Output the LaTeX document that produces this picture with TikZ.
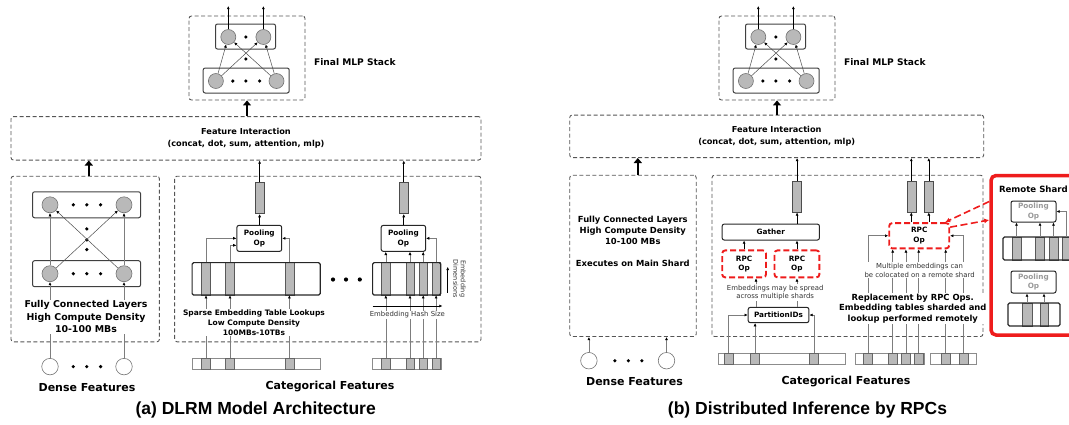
\documentclass[tikz,border=0pt]{standalone}
\usepackage{fontspec}
\setmainfont{DejaVu Sans}
\newfontfamily\capfont{Liberation Sans}
\usetikzlibrary{arrows.meta, positioning, calc}
\definecolor{linegray}{RGB}{125,125,125}
\definecolor{boxgray}{RGB}{85,85,85}
\definecolor{cellgray}{RGB}{185,185,185}
\definecolor{rpcred}{RGB}{238,28,28}

\begin{document}
\begin{tikzpicture}[
    x=1pt, y=-1pt,
    dashbox/.style={rectangle, draw=boxgray, dash pattern=on 4pt off 2.5pt, line width=0.9pt, rounded corners=2.5pt, inner sep=0pt},
    netlayer/.style={rectangle, draw=black!75, line width=1pt, rounded corners=2pt, minimum height=25pt},
    neuron/.style={circle, draw=black!55, fill=cellgray, minimum size=15pt, inner sep=0pt, line width=0.6pt},
    inputnode/.style={circle, draw=black!55, fill=white, minimum size=16.5pt, inner sep=0pt, line width=0.6pt},
    dotnode/.style={circle, fill=black, minimum size=3.6pt, inner sep=0pt},
    opbox/.style={rectangle, draw=black!85, line width=1pt, rounded corners=2pt, font=\fontsize{7.3}{9.6}\selectfont\bfseries, align=center, inner sep=0pt},
    rpcbox/.style={rectangle, draw=rpcred, dash pattern=on 6pt off 3pt, line width=1.9pt, rounded corners=3pt, font=\fontsize{7.3}{9.6}\selectfont\bfseries, align=center, inner sep=0pt, minimum height=27pt},
    embtable/.style={rectangle, draw=black!85, line width=1.2pt, rounded corners=1.5pt, inner sep=0pt},
    stripe/.style={rectangle, draw=black!65, fill=cellgray, minimum width=9pt, inner sep=0pt, line width=0.5pt},
    featvec/.style={rectangle, draw=black!45, line width=0.5pt, minimum height=11pt, inner sep=0pt},
    fcell/.style={rectangle, draw=black!60, fill=cellgray, minimum width=9pt, minimum height=11pt, inner sep=0pt, line width=0.5pt},
    vecbar/.style={rectangle, draw=black!70, fill=cellgray, minimum width=9pt, minimum height=31pt, inner sep=0pt, line width=0.6pt},
    conn/.style={draw=linegray, line width=0.6pt, -{Latex[length=3.2pt, width=3pt, color=black]}},
    netarrow/.style={draw=black!70, line width=0.5pt, -{Latex[length=3.2pt, width=3pt, color=black]}},
    outarrow/.style={draw=black, line width=0.6pt, -{Latex[length=3.2pt, width=3pt]}},
    bigarrow/.style={draw=black, line width=2.6pt, -{Triangle[length=5pt, width=8pt]}},
    redarrow/.style={draw=rpcred, dash pattern=on 7pt off 3.5pt, line width=1.6pt, -{Latex[length=5pt, width=5pt]}},
    note/.style={font=\fontsize{6.9}{8.6}\selectfont, text=black!80, align=center, fill=white, inner sep=0.8pt},
    boldnote/.style={font=\bfseries, align=center, fill=white, inner sep=0.8pt},
    subcap/.style={font=\capfont\bfseries\fontsize{17.5}{20}\selectfont}
]
\useasboundingbox (0,0) rectangle (1069,424);
\clip (0,0) rectangle (1069,424);

% Final MLP stacks (same in both panels)
\foreach \p/\dx in {a/0, b/530}{
  \node[dashbox, minimum width=116pt, minimum height=84pt] (mlp_\p) at (247+\dx,58) {};
  \node[netlayer, minimum width=60pt] (mlp_top_\p) at (245.5+\dx,36.5) {};
  \node[netlayer, minimum width=86pt] (mlp_bot_\p) at (246.2+\dx,80.5) {};
  \node[neuron] (mt1_\p) at (228.3+\dx,37) {};
  \node[neuron] (mt2_\p) at (263.4+\dx,37) {};
  \node[neuron] (mb1_\p) at (215.9+\dx,81) {};
  \node[neuron] (mb2_\p) at (276.5+\dx,81) {};
  \node[dotnode] (mdot_top_\p) at (245.9+\dx,37) {};
  \node[dotnode] (mdot_mid_\p) at (245.9+\dx,59) {};
  \foreach \xx [count=\k] in {232.8,245.9,259.6}
    \node[dotnode] (mdot\k_\p) at (\xx+\dx,81) {};
  \foreach \src in {mb1,mb2}
    \foreach \tgt in {mt1,mt2}
      \draw[netarrow] (\src_\p) -- (\tgt_\p);
  \coordinate (mout1_\p) at (228.3+\dx,6);
  \coordinate (mout2_\p) at (263.4+\dx,6);
  \draw[outarrow] (mt1_\p.north) -- (mout1_\p);
  \draw[outarrow] (mt2_\p.north) -- (mout2_\p);
  \node[font=\fontsize{9.1}{11}\selectfont\bfseries, anchor=west] (mlp_lbl_\p) at (310.6+\dx,62) {Final MLP Stack};
}

% Feature interaction boxes
\node[dashbox, minimum width=470pt, minimum height=43.5pt, font=\fontsize{8.2}{12}\selectfont\bfseries, align=center] (fi_a) at (246,138.3) {Feature Interaction\\(concat, dot, sum, attention, mlp)};
\node[dashbox, minimum width=414pt, minimum height=42.5pt, font=\fontsize{8.2}{12}\selectfont\bfseries, align=center] (fi_b) at (776.7,136.3) {Feature Interaction\\(concat, dot, sum, attention, mlp)};
\draw[bigarrow] (fi_a.north -| mlp_a.south) -- (mlp_a.south);
\draw[bigarrow] (fi_b.north -| mlp_b.south) -- (mlp_b.south);

%%%%% Panel (a) %%%%%

% Dense side
\node[dashbox, minimum width=148.4pt, minimum height=165.6pt] (dense_a) at (85.2,259) {};
\node[netlayer, minimum width=108pt, minimum height=26pt] (dtop_a) at (86.6,204.8) {};
\node[netlayer, minimum width=108pt, minimum height=26pt] (dbot_a) at (86.6,273.7) {};
\node[neuron, minimum size=16pt] (dt1_a) at (50,204.8) {};
\node[neuron, minimum size=16pt] (dt2_a) at (124,204.8) {};
\node[neuron, minimum size=16pt] (db1_a) at (50,273.7) {};
\node[neuron, minimum size=16pt] (db2_a) at (124,273.7) {};
\foreach \xx [count=\k] in {73.3,86.8,100.6}{
  \node[dotnode] (dtdot\k_a) at (\xx,204.8) {};
  \node[dotnode] (dbdot\k_a) at (\xx,273.7) {};
  \node[dotnode] (didot\k_a) at (\xx,366.6) {};
}
\foreach \yy [count=\k] in {228.9,239.9,249.5}
  \node[dotnode] (dmid\k_a) at (86.8,\yy) {};
\node[inputnode] (di1_a) at (50,366.6) {};
\node[inputnode] (di2_a) at (124,366.6) {};
\draw[conn] (db1_a) -- (dt1_a);
\draw[conn] (db2_a) -- (dt2_a);
\draw[netarrow] (db1_a) -- (dt2_a);
\draw[netarrow] (db2_a) -- (dt1_a);
\draw[conn] (di1_a) -- (db1_a);
\draw[conn] (di2_a) -- (db2_a);
\coordinate (dense_up_a) at ([xshift=3.6pt]dense_a.north);
\draw[bigarrow] (dense_up_a) -- (dense_up_a |- fi_a.south);

% Categorical side
\node[dashbox, minimum width=306.4pt, minimum height=165.6pt] (cat_a) at (327.8,259) {};

% table 1
\node[featvec, minimum width=128.1pt] (fa1) at (256.15,363.7) {};
\foreach \xx [count=\k] in {206,230,289.4}{
  \node[stripe, minimum height=32.4pt] (ta1s\k) at (\xx,278.8) {};
  \node[fcell] (fa1c\k) at (\xx,363.7) {};
}
\node[embtable, minimum width=128.1pt, minimum height=32.4pt] (ta1) at (256.15,278.8) {};
\node[opbox, minimum width=44.8pt, minimum height=25.9pt] (pool_a1) at (259.3,238.35) {Pooling\\Op};
\node[vecbar] (bar_a1) at (259.6,198.25) {};
\draw[outarrow] (pool_a1.north -| bar_a1.south) -- (bar_a1.south);
\draw[outarrow] (bar_a1.north) -- (bar_a1.north |- fi_a.south);
\coordinate (pin_a1) at ([yshift=-7pt]pool_a1.west);
\draw[conn] (ta1s1.north) |- (pool_a1.west);
\draw[conn] (ta1s2.north) |- (pin_a1);
\draw[conn] (ta1s3.north) |- (pool_a1.east);
\foreach \k in {1,2,3}
  \draw[conn] (fa1c\k.north) -- (ta1s\k.south);

\foreach \xx [count=\k] in {333,346,359.8}
  \node[dotnode, minimum size=4.2pt] (tdot\k_a) at (\xx,279.5) {};

% table 2
\node[featvec, minimum width=68.2pt] (fa2) at (406.7,363.7) {};
\foreach \xx [count=\k] in {385.8,410,423.2,436.1}{
  \node[stripe, minimum width=8.5pt, minimum height=32.4pt] (ta2s\k) at (\xx,278.8) {};
  \node[fcell, minimum width=8.5pt] (fa2c\k) at (\xx,363.7) {};
}
\node[embtable, minimum width=68.2pt, minimum height=32.4pt] (ta2) at (406.7,278.8) {};
\node[opbox, minimum width=44.4pt, minimum height=25.9pt] (pool_a2) at (403.4,238.35) {Pooling\\Op};
\node[vecbar] (bar_a2) at (403.75,198.25) {};
\draw[outarrow] (pool_a2.north -| bar_a2.south) -- (bar_a2.south);
\draw[outarrow] (bar_a2.north) -- (bar_a2.north |- fi_a.south);
\foreach \k in {1,2,3}
  \draw[conn] (ta2s\k.north) -- (ta2s\k.north |- pool_a2.south);
\draw[conn] (ta2s4.north) |- (pool_a2.east);
\foreach \k in {1,2,3,4}
  \draw[conn] (fa2c\k.north) -- (ta2s\k.south);

% axes of table 2
\coordinate (dimlo_a) at (447.7,292.6);
\coordinate (dimhi_a) at (447.7,266.8);
\draw[outarrow] (dimlo_a) -- (dimhi_a);
\coordinate (hashl_a) at (372.6,306);
\coordinate (hashr_a) at (442.5,306);
\draw[outarrow] (hashl_a) -- (hashr_a);
\node[font=\fontsize{6.5}{7.6}\selectfont, text=black!80, rotate=-90, align=center] (embdim_a) at (459.5,278.8) {Embedding\\Dimensions};
\node[note] (hash_a) at (407.4,315) {Embedding Hash Size};

% texts of panel (a)
\node[boldnote, font=\fontsize{9.4}{12.75}\selectfont\bfseries] (dense_txt_a) at (86,316.7) {Fully Connected Layers\\High Compute Density\\10-100 MBs};
\node[boldnote, font=\fontsize{7.5}{9.85}\selectfont\bfseries] (sparse_a) at (254,322.5) {Sparse Embedding Table Lookups\\Low Compute Density\\100MBs-10TBs};
\node[font=\fontsize{11}{13}\selectfont\bfseries] (dense_lbl_a) at (87,388) {Dense Features};
\node[font=\fontsize{11}{13}\selectfont\bfseries] (cat_lbl_a) at (330,386.6) {Categorical Features};
\node[subcap] (cap_a) at (255.7,410) {(a) DLRM Model Architecture};

%%%%% Panel (b) %%%%%

% Dense side
\node[dashbox, minimum width=126.5pt, minimum height=161.3pt] (dense_b) at (633,255.85) {};
\node[inputnode] (di1_b) at (588.9,360.7) {};
\node[inputnode] (di2_b) at (666.5,360.7) {};
\foreach \xx [count=\k] in {614.9,628.4,641.9}
  \node[dotnode] (didot\k_b) at (\xx,360.7) {};
\draw[conn] (di1_b) -- (di1_b |- dense_b.south);
\draw[conn] (di2_b) -- (di2_b |- dense_b.south);
\coordinate (dense_up_b) at ([xshift=4.8pt]dense_b.north);
\draw[bigarrow] (dense_up_b) -- (dense_up_b |- fi_b.south);
\node[font=\fontsize{8.4}{11}\selectfont\bfseries, align=center] (dense_txt_b) at (632.8,241) {Fully Connected Layers\\High Compute Density\\10-100 MBs\\[11pt]Executes on Main Shard};

% Categorical side
\node[dashbox, minimum width=271pt, minimum height=161.3pt] (cat_b) at (847.5,255.85) {};

% spread embeddings
\node[vecbar] (bar_b1) at (797.1,196.6) {};
\node[opbox, minimum width=97.2pt, minimum height=15.9pt] (gather_b) at (770.8,232.05) {Gather};
\node[rpcbox, minimum width=43.8pt] (rpc_b1) at (744.1,263.9) {RPC\\Op};
\node[rpcbox, minimum width=44.9pt] (rpc_b2) at (796.95,263.9) {RPC\\Op};
\node[opbox, minimum width=60.7pt, minimum height=15.2pt] (part_b) at (778.55,315) {PartitionIDs};
\node[featvec, minimum width=127.2pt] (fb1) at (781.7,358.55) {};
\foreach \xx [count=\k] in {728.5,755.1,814.1}
  \node[fcell] (fb1c\k) at (\xx,358.55) {};
\draw[outarrow] (bar_b1.north) -- (bar_b1.north |- fi_b.south);
\draw[outarrow] (gather_b.north -| bar_b1.south) -- (bar_b1.south);
\draw[outarrow] (rpc_b1.north) -- (rpc_b1.north |- gather_b.south);
\draw[outarrow] (rpc_b2.north) -- (rpc_b2.north |- gather_b.south);
\draw[conn] (part_b.north -| 756,0) -- (rpc_b1.south -| 756,0);
\draw[conn] (part_b.north -| rpc_b2.south) -- (rpc_b2.south);
\draw[conn] (fb1c1.north) |- (part_b.west);
\draw[conn] (fb1c2.north) -- (fb1c2.north |- part_b.south);
\draw[conn] (fb1c3.north) |- (part_b.east);

% colocated embeddings
\node[vecbar] (bar_b2) at (911.3,196.6) {};
\node[vecbar] (bar_b3) at (928.8,196.6) {};
\node[rpcbox, minimum width=60pt, minimum height=25.3pt] (rpc_b) at (919.2,235.75) {RPC\\Op};
\node[featvec, minimum width=68.4pt] (fb2) at (889.7,358.55) {};
\node[featvec, minimum width=45.5pt] (fb3) at (953.45,358.55) {};
\foreach \xx [count=\k] in {868.1,892.7,905.9,918.7}
  \node[fcell] (fb2c\k) at (\xx,358.55) {};
\foreach \xx [count=\k] in {945.7,963.6}
  \node[fcell] (fb3c\k) at (\xx,358.55) {};
\draw[outarrow] (bar_b2.north) -- (bar_b2.north |- fi_b.south);
\draw[outarrow] (bar_b3.north) -- (bar_b3.north |- fi_b.south);
\draw[outarrow] (rpc_b.north -| bar_b2.south) -- (bar_b2.south);
\draw[outarrow] (rpc_b.north -| bar_b3.south) -- (bar_b3.south);
\draw[conn] (fb2c1.north) |- (rpc_b.west);
\foreach \k in {2,3,4}
  \draw[conn] (fb2c\k.north) -- (fb2c\k.north |- rpc_b.south);
\draw[conn] (fb3c1.north) -- (fb3c1.north |- rpc_b.south);
\draw[conn] (fb3c2.north) |- (rpc_b.east);

% Remote shard
\node[rectangle, draw=rpcred, line width=3.5pt, rounded corners=5pt, minimum width=130pt, minimum height=159.5pt] (remote) at (1056,255.25) {};
\node[font=\fontsize{8.6}{11}\selectfont\bfseries, anchor=west] (remote_lbl) at (995.5,189) {Remote Shard};
\node[opbox, text=black!40, minimum width=45pt, minimum height=21pt] (pool_r1) at (1033.5,211.5) {Pooling\\Op};
\foreach \xx [count=\k] in {1016.5,1040,1053.5,1066.5}
  \node[stripe, minimum height=23pt] (tr1s\k) at (\xx,248.5) {};
\node[embtable, minimum width=87pt, minimum height=23pt] (tr1) at (1046.5,248.5) {};
\foreach \k in {1,2,3}
  \draw[conn] (tr1s\k.north) -- (tr1s\k.north |- pool_r1.south);
\draw[conn] (tr1s4.north) |- (pool_r1.east);
\node[opbox, text=black!40, minimum width=45pt, minimum height=22pt] (pool_r2) at (1033.5,282) {Pooling\\Op};
\node[stripe, minimum width=10pt, minimum height=23pt] (tr2s1) at (1027,314.5) {};
\node[stripe, minimum width=8pt, minimum height=23pt] (tr2s2) at (1044,314.5) {};
\node[embtable, minimum width=52pt, minimum height=23pt] (tr2) at (1034,314.5) {};
\foreach \k in {1,2}
  \draw[conn] (tr2s\k.north) -- (tr2s\k.north |- pool_r2.south);

% RPC traffic to and from the remote shard
\draw[redarrow] (remote.west |- 0,201.5) -- ([xshift=-5pt]rpc_b.north east);
\draw[redarrow] ([yshift=-5pt]rpc_b.north east) -- (remote.west |- 0,220);

% texts of panel (b)
\node[note] (spread_b) at (775.2,292.4) {Embeddings may be spread\\across multiple shards};
\node[note] (coloc_b) at (919.6,270.2) {Multiple embeddings can\\be colocated on a remote shard};
\node[boldnote, font=\fontsize{8.4}{10.5}\selectfont\bfseries] (repl_b) at (912.8,308.6) {Replacement by RPC Ops.\\Embedding tables sharded and\\lookup performed remotely};
\node[font=\fontsize{11}{13}\selectfont\bfseries] (dense_lbl_b) at (634.5,382) {Dense Features};
\node[font=\fontsize{11}{13}\selectfont\bfseries] (cat_lbl_b) at (846,382) {Categorical Features};
\node[subcap] (cap_b) at (807.5,410) {(b) Distributed Inference by RPCs};

\end{tikzpicture}
\end{document}
